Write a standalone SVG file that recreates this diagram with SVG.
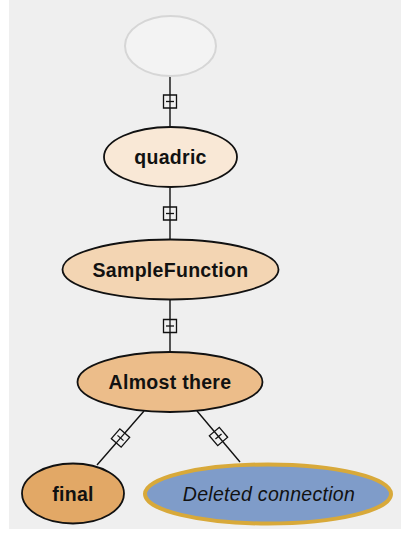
<svg xmlns="http://www.w3.org/2000/svg" width="401" height="537" viewBox="0 0 401 537">
<style>
.node ellipse{stroke:#111;stroke-width:1.8}
.lbl{font-family:"Liberation Sans",Arial,sans-serif;font-size:19.5px;font-weight:bold;text-anchor:middle;fill:#111;letter-spacing:0.3px}
.edge{fill:none;stroke:#111;stroke-width:1.4;marker-mid:url(#box)}
</style>
<defs>
<marker id="box" markerUnits="userSpaceOnUse" markerWidth="16" markerHeight="16" viewBox="-8 -8 16 16" refX="0" refY="0" orient="auto">
<rect x="-6.5" y="-6.5" width="13" height="13" fill="#f0f0f0" stroke="#111" stroke-width="1.3"/>
<line x1="-6.5" y1="0" x2="6.5" y2="0" stroke="#111" stroke-width="1.3"/>
<line x1="0" y1="-4" x2="0" y2="4" stroke="#111" stroke-width="1.3"/>
</marker>
</defs>
<rect x="0" y="0" width="401" height="537" fill="#ffffff"/>
<rect x="9" y="0" width="392" height="529" fill="#efefef"/>
<g id="connectors">
<path class="edge" d="M170,76 L170,101.5 L170,127"/>
<path class="edge" d="M170,188 L170,213.5 L170,239"/>
<path class="edge" d="M170,300 L170,326 L170,352"/>
<path class="edge" d="M144,411 L120.5,438 L97,465"/>
<path class="edge" d="M197,411 L218.5,436.5 L240,462"/>
</g>
<g id="node-start">
<ellipse cx="170.5" cy="46" rx="45.5" ry="30" fill="#f3f3f3" stroke="#d6d6d6" stroke-width="2"/>
</g>
<g id="node-quadric" class="node">
<ellipse cx="170.5" cy="157" rx="66.5" ry="30" fill="#f9e8d6"/>
<text class="lbl" x="170.5" y="164">quadric</text>
</g>
<g id="node-samplefunction" class="node">
<ellipse cx="170.5" cy="269.5" rx="108" ry="30" fill="#f3d5b3"/>
<text class="lbl" x="170.5" y="276.5">SampleFunction</text>
</g>
<g id="node-almost" class="node">
<ellipse cx="170" cy="382" rx="92.5" ry="30" fill="#ecbd8a"/>
<text class="lbl" x="170" y="389">Almost there</text>
</g>
<g id="node-final" class="node">
<ellipse cx="73" cy="493.5" rx="51" ry="30" fill="#e2a866"/>
<text class="lbl" x="73" y="500.5">final</text>
</g>
<g id="node-deleted">
<ellipse cx="268" cy="494" rx="123" ry="29.5" fill="#7f9cc9" stroke="#d8a93a" stroke-width="4"/>
<text x="269" y="501" font-family="Liberation Sans,Arial,sans-serif" font-size="19.5" font-style="italic" text-anchor="middle" fill="#111" letter-spacing="0.3">Deleted connection</text>
</g>
</svg>
